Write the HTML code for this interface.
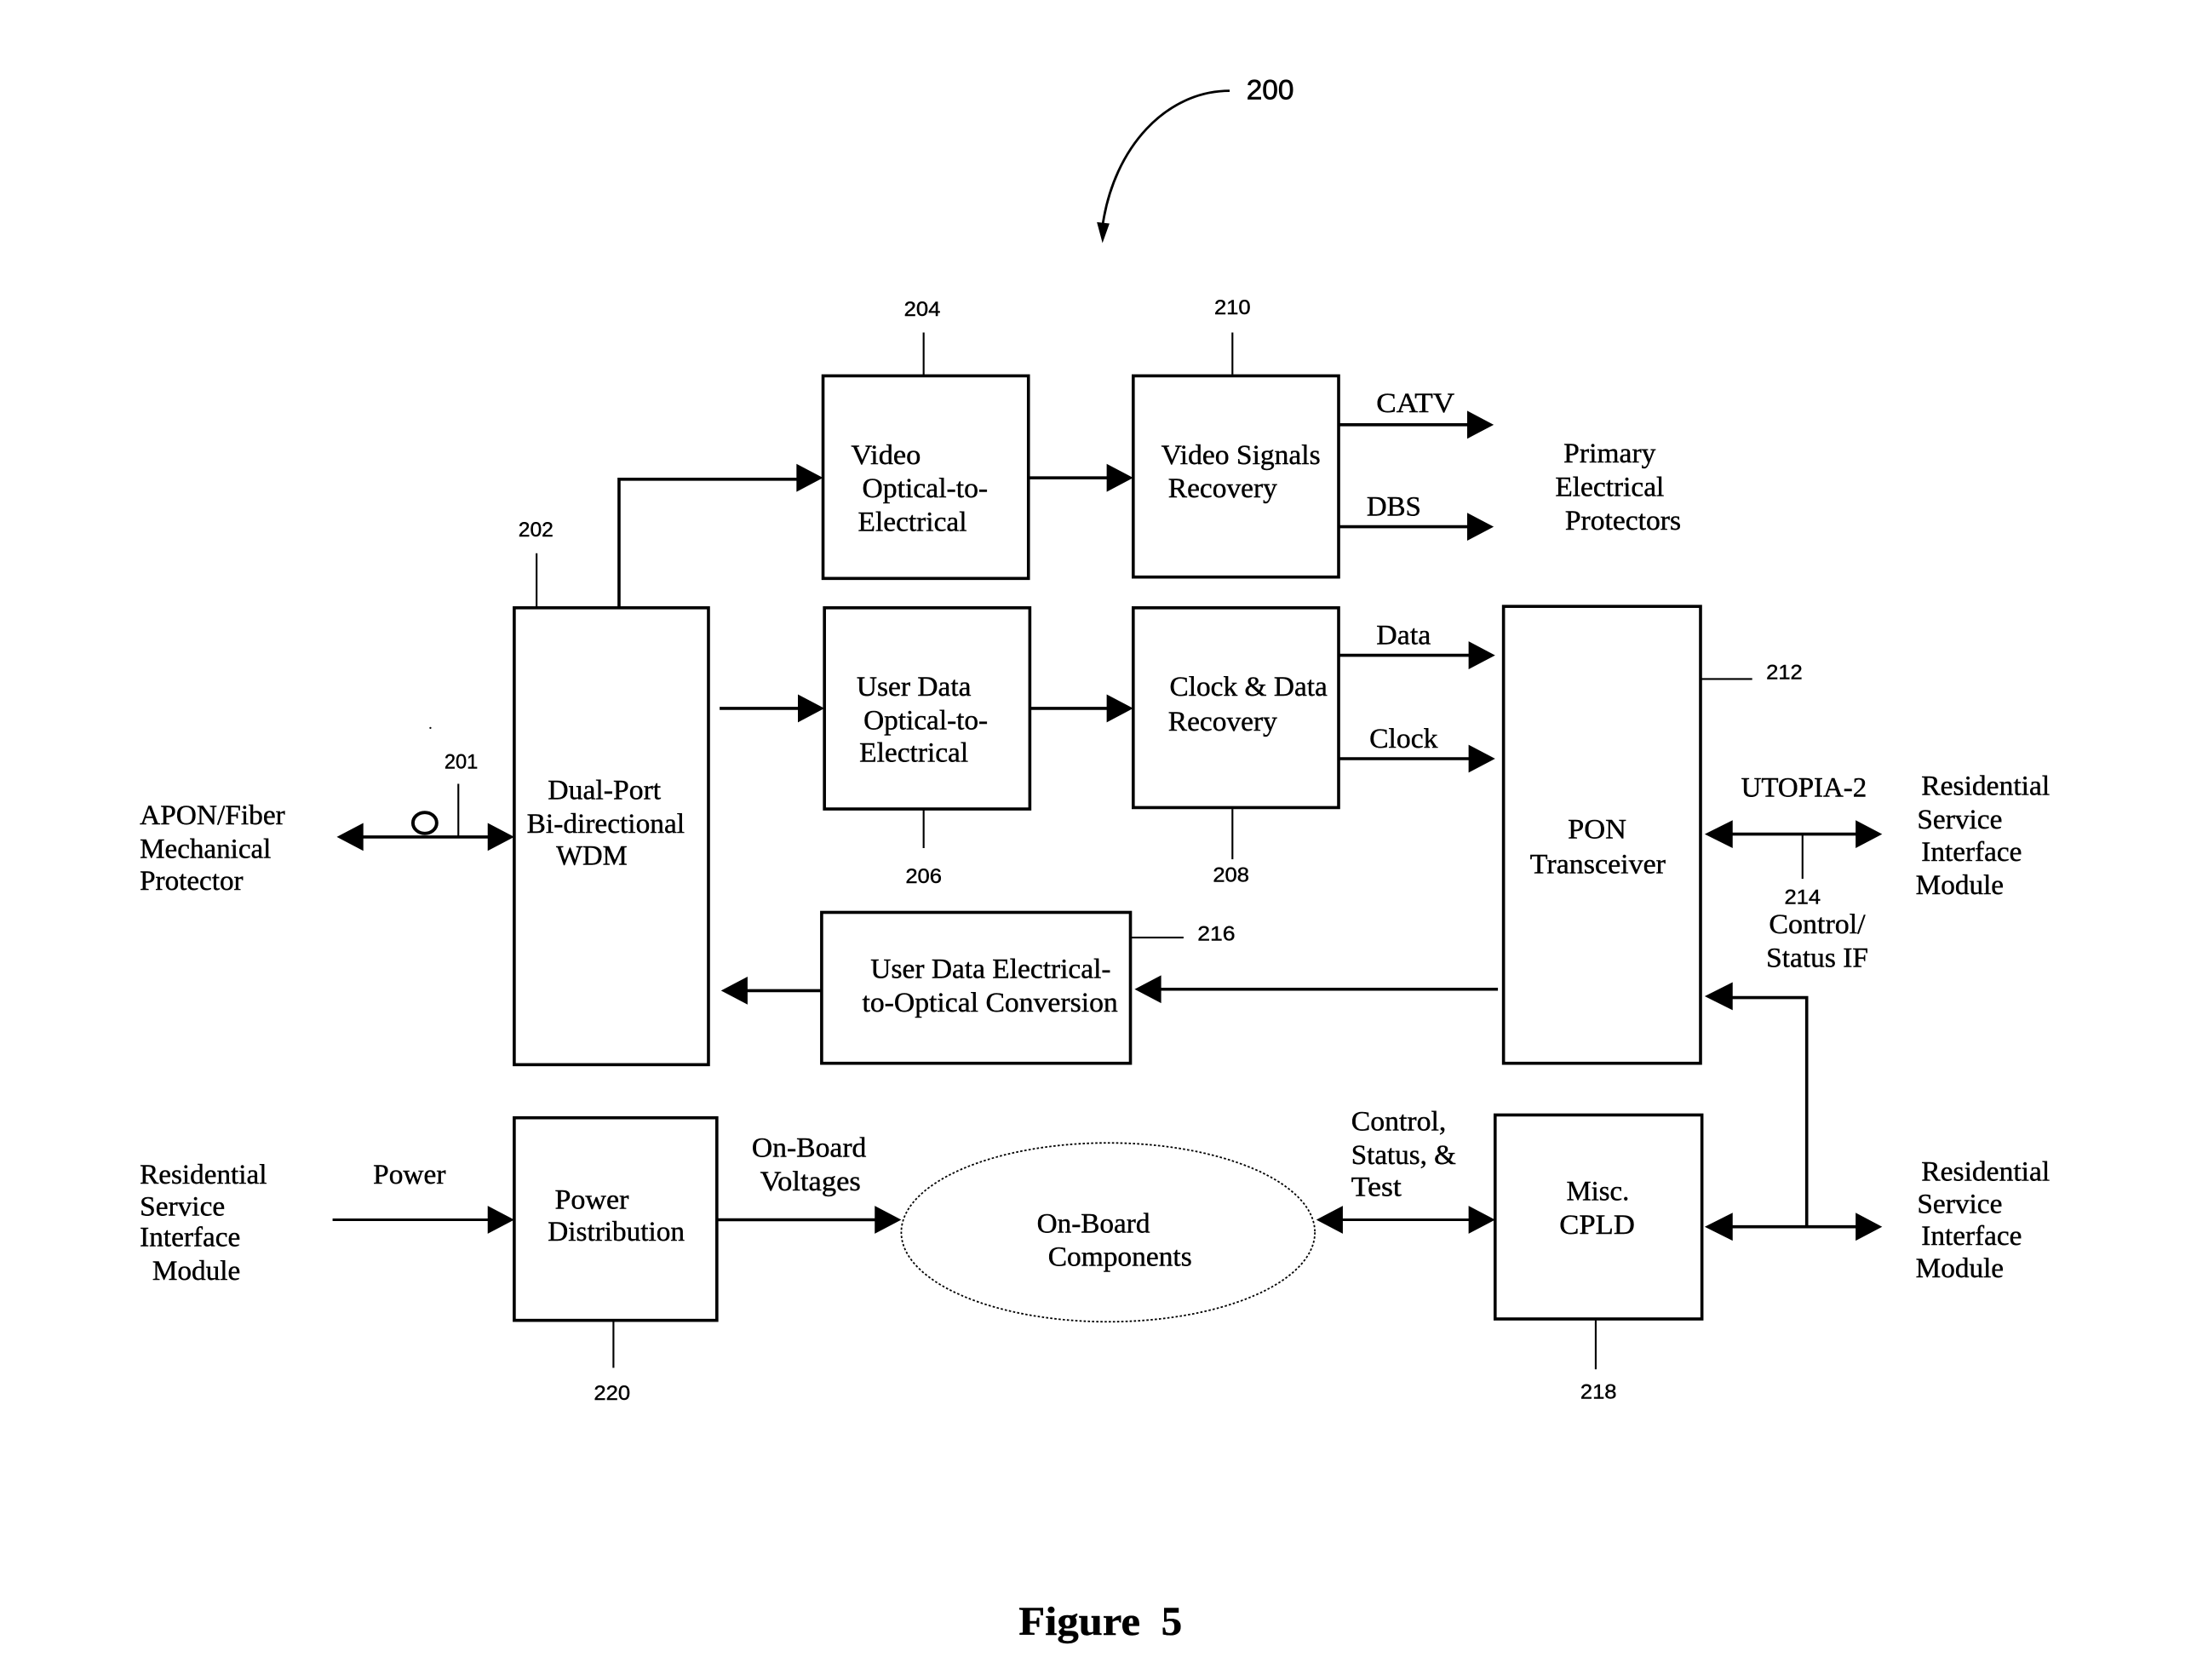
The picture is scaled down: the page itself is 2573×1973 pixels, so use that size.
<!DOCTYPE html>
<html><head><meta charset="utf-8"><style>
html,body{margin:0;padding:0;background:#fff}
svg{display:block}
text{fill:#000;font-family:"Liberation Serif",serif;font-size:20px;stroke:#000;stroke-width:.25}
.n{font-family:"Liberation Sans",sans-serif;font-size:14.5px;stroke-width:.25}
.b{fill:#fff;stroke:#000;stroke-width:2.2}
.l{fill:none;stroke:#000;stroke-width:2.2}
.t{fill:none;stroke:#000;stroke-width:1.3}
polygon{fill:#000}
</style></head><body>
<svg width="2573" height="1973" viewBox="0 0 1568 1202.4" xmlns="http://www.w3.org/2000/svg">
<!-- boxes -->
<rect class="b" x="589" y="269" width="147" height="145"/>
<rect class="b" x="811" y="269" width="147" height="144"/>
<rect class="b" x="368" y="435" width="139" height="327"/>
<rect class="b" x="590" y="435" width="147" height="144"/>
<rect class="b" x="811" y="435" width="147" height="143"/>
<rect class="b" x="1076" y="434" width="141" height="327"/>
<rect class="b" x="588" y="653" width="221" height="108"/>
<rect class="b" x="368" y="800" width="145" height="145"/>
<rect class="b" x="1070" y="798" width="148" height="146"/>
<ellipse cx="793" cy="882" rx="148" ry="64" fill="none" stroke="#000" stroke-width="1.1" stroke-dasharray="1.6 1.4"/>
<!-- curved arrow 200 -->
<path class="t" style="stroke-width:1.7" d="M880 65C835 65 797 105 789 162"/>
<polygon points="789,174 785,159 794,160"/>
<!-- connectors -->
<path class="l" d="M443 435V343H572"/><polygon points="589,342 570,332 570,352"/>
<path class="l" d="M737 342H795"/><polygon points="811,342 792,332 792,352"/>
<path class="l" d="M958 304H1052"/><polygon points="1069,304 1050,294 1050,314"/>
<path class="l" d="M958 377H1052"/><polygon points="1069,377 1050,367 1050,387"/>
<path class="l" d="M515 507H572"/><polygon points="590,507 571,497 571,517"/>
<path class="l" d="M737 507H795"/><polygon points="811,507 792,497 792,517"/>
<path class="l" d="M958 469H1052"/><polygon points="1070,469 1051,459 1051,479"/>
<path class="l" d="M958 543H1052"/><polygon points="1070,543 1051,533 1051,553"/>
<path class="l" d="M1072 708H830"/><polygon points="812,708 831,698 831,718"/>
<path class="l" d="M588 709H534"/><polygon points="516,709 535,699 535,719"/>
<path class="l" d="M258 599H352"/><polygon points="241,599 260,589 260,609"/><polygon points="368,599 349,589 349,609"/>
<path class="l" d="M1238 597H1330"/><polygon points="1220,597 1240,587 1240,607"/><polygon points="1347,597 1328,587 1328,607"/>
<path class="l" d="M1293 878V714H1238"/><polygon points="1220,713 1240,703 1240,723"/>
<path class="l" d="M1238 878H1330"/><polygon points="1220,878 1240,868 1240,888"/><polygon points="1347,878 1328,868 1328,888"/>
<path class="l" style="stroke-width:1.8" d="M958 873H1054"/><polygon points="942,873 961,863 961,883"/><polygon points="1070,873 1051,863 1051,883"/>
<path class="l" style="stroke-width:1.8" d="M238 873H352"/><polygon points="368,873 349,863 349,883"/>
<path class="l" d="M513 873H628"/><polygon points="645,873 626,863 626,883"/>
<ellipse cx="304" cy="589" rx="8.5" ry="7.5" fill="none" stroke="#000" stroke-width="2.4"/>
<circle cx="308" cy="521" r=".7" fill="#000"/>
<!-- leaders -->
<path class="t" d="M328 561V599M384 396V435M661 238V269M882 238V268M661 579V607M882 579V615M1217 486H1254M1290 597V629M809 671H847M1142 945V980M439 945V979"/>
<!-- reference numbers -->
<text class="n" x="892" y="71" style="font-size:20px;stroke-width:.4" textLength="34" lengthAdjust="spacingAndGlyphs">200</text>
<text class="n" x="647" y="226" textLength="26" lengthAdjust="spacingAndGlyphs">204</text>
<text class="n" x="869" y="225" textLength="26" lengthAdjust="spacingAndGlyphs">210</text>
<text class="n" x="371" y="384" textLength="25" lengthAdjust="spacingAndGlyphs">202</text>
<text class="n" x="318" y="550" textLength="24" lengthAdjust="spacingAndGlyphs">201</text>
<text class="n" x="648" y="632" textLength="26" lengthAdjust="spacingAndGlyphs">206</text>
<text class="n" x="868" y="631" textLength="26" lengthAdjust="spacingAndGlyphs">208</text>
<text class="n" x="1264" y="486" textLength="26" lengthAdjust="spacingAndGlyphs">212</text>
<text class="n" x="1277" y="647" textLength="26" lengthAdjust="spacingAndGlyphs">214</text>
<text class="n" x="857" y="673" textLength="27" lengthAdjust="spacingAndGlyphs">216</text>
<text class="n" x="1131" y="1001" textLength="26" lengthAdjust="spacingAndGlyphs">218</text>
<text class="n" x="425" y="1002" textLength="26" lengthAdjust="spacingAndGlyphs">220</text>
<!-- labels -->
<text x="609" y="332" textLength="50" lengthAdjust="spacingAndGlyphs">Video</text>
<text x="617" y="356" textLength="90" lengthAdjust="spacingAndGlyphs">Optical-to-</text>
<text x="614" y="380" textLength="78" lengthAdjust="spacingAndGlyphs">Electrical</text>
<text x="831" y="332" textLength="114" lengthAdjust="spacingAndGlyphs">Video Signals</text>
<text x="836" y="356" textLength="78" lengthAdjust="spacingAndGlyphs">Recovery</text>
<text x="985" y="295" textLength="56" lengthAdjust="spacingAndGlyphs">CATV</text>
<text x="978" y="369" textLength="39" lengthAdjust="spacingAndGlyphs">DBS</text>
<text x="1119" y="331" textLength="66" lengthAdjust="spacingAndGlyphs">Primary</text>
<text x="1113" y="355" textLength="78" lengthAdjust="spacingAndGlyphs">Electrical</text>
<text x="1120" y="379" textLength="83" lengthAdjust="spacingAndGlyphs">Protectors</text>
<text x="985" y="461" textLength="39" lengthAdjust="spacingAndGlyphs">Data</text>
<text x="980" y="535" textLength="49" lengthAdjust="spacingAndGlyphs">Clock</text>
<text x="837" y="498" textLength="113" lengthAdjust="spacingAndGlyphs">Clock &amp; Data</text>
<text x="836" y="523" textLength="78" lengthAdjust="spacingAndGlyphs">Recovery</text>
<text x="613" y="498" textLength="82" lengthAdjust="spacingAndGlyphs">User Data</text>
<text x="618" y="522" textLength="89" lengthAdjust="spacingAndGlyphs">Optical-to-</text>
<text x="615" y="545" textLength="78" lengthAdjust="spacingAndGlyphs">Electrical</text>
<text x="392" y="572" textLength="81" lengthAdjust="spacingAndGlyphs">Dual-Port</text>
<text x="377" y="596" textLength="113" lengthAdjust="spacingAndGlyphs">Bi-directional</text>
<text x="398" y="619" textLength="51" lengthAdjust="spacingAndGlyphs">WDM</text>
<text x="100" y="590" textLength="104" lengthAdjust="spacingAndGlyphs">APON/Fiber</text>
<text x="100" y="614" textLength="94" lengthAdjust="spacingAndGlyphs">Mechanical</text>
<text x="100" y="637" textLength="74" lengthAdjust="spacingAndGlyphs">Protector</text>
<text x="623" y="700" textLength="172" lengthAdjust="spacingAndGlyphs">User Data Electrical-</text>
<text x="617" y="724" textLength="183" lengthAdjust="spacingAndGlyphs">to-Optical Conversion</text>
<text x="1122" y="600" textLength="42" lengthAdjust="spacingAndGlyphs">PON</text>
<text x="1095" y="625" textLength="97" lengthAdjust="spacingAndGlyphs">Transceiver</text>
<text x="1246" y="570" textLength="90" lengthAdjust="spacingAndGlyphs">UTOPIA-2</text>
<text x="1375" y="569" textLength="92" lengthAdjust="spacingAndGlyphs">Residential</text>
<text x="1372" y="593" textLength="61" lengthAdjust="spacingAndGlyphs">Service</text>
<text x="1375" y="616" textLength="72" lengthAdjust="spacingAndGlyphs">Interface</text>
<text x="1371" y="640" textLength="63" lengthAdjust="spacingAndGlyphs">Module</text>
<text x="1266" y="668" textLength="69" lengthAdjust="spacingAndGlyphs">Control/</text>
<text x="1264" y="692" textLength="73" lengthAdjust="spacingAndGlyphs">Status IF</text>
<text x="1375" y="845" textLength="92" lengthAdjust="spacingAndGlyphs">Residential</text>
<text x="1372" y="868" textLength="61" lengthAdjust="spacingAndGlyphs">Service</text>
<text x="1375" y="891" textLength="72" lengthAdjust="spacingAndGlyphs">Interface</text>
<text x="1371" y="914" textLength="63" lengthAdjust="spacingAndGlyphs">Module</text>
<text x="1121" y="859" textLength="45" lengthAdjust="spacingAndGlyphs">Misc.</text>
<text x="1116" y="883" textLength="54" lengthAdjust="spacingAndGlyphs">CPLD</text>
<text x="967" y="809" textLength="68" lengthAdjust="spacingAndGlyphs">Control,</text>
<text x="967" y="833" textLength="75" lengthAdjust="spacingAndGlyphs">Status, &amp;</text>
<text x="967" y="856" textLength="36" lengthAdjust="spacingAndGlyphs">Test</text>
<text x="742" y="882" textLength="81" lengthAdjust="spacingAndGlyphs">On-Board</text>
<text x="750" y="906" textLength="103" lengthAdjust="spacingAndGlyphs">Components</text>
<text x="538" y="828" textLength="82" lengthAdjust="spacingAndGlyphs">On-Board</text>
<text x="544" y="852" textLength="72" lengthAdjust="spacingAndGlyphs">Voltages</text>
<text x="267" y="847" textLength="52" lengthAdjust="spacingAndGlyphs">Power</text>
<text x="100" y="847" textLength="91" lengthAdjust="spacingAndGlyphs">Residential</text>
<text x="100" y="870" textLength="61" lengthAdjust="spacingAndGlyphs">Service</text>
<text x="100" y="892" textLength="72" lengthAdjust="spacingAndGlyphs">Interface</text>
<text x="109" y="916" textLength="63" lengthAdjust="spacingAndGlyphs">Module</text>
<text x="397" y="865" textLength="53" lengthAdjust="spacingAndGlyphs">Power</text>
<text x="392" y="888" textLength="98" lengthAdjust="spacingAndGlyphs">Distribution</text>
<text x="729" y="1170" style="font-size:29px;font-weight:bold" textLength="87" lengthAdjust="spacingAndGlyphs">Figure</text>
<text x="831" y="1170" style="font-size:29px;font-weight:bold" textLength="15" lengthAdjust="spacingAndGlyphs">5</text>
</svg>
</body></html>
